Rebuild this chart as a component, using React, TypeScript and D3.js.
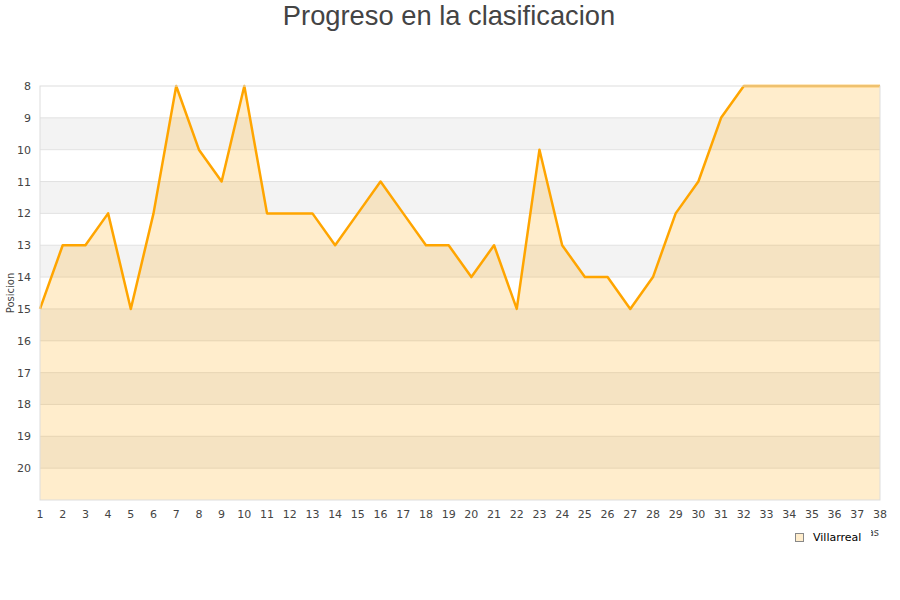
import * as d3 from "d3"

const jornadas = d3.range(1, 39)
const posiciones = [
  15, 13, 13, 12, 15, 12, 8, 10, 11, 8, 12, 12, 12, 13, 12, 11, 12, 13, 13, 14,
  13, 15, 10, 13, 14, 14, 15, 14, 12, 11, 9, 8, 8, 8, 8, 8, 8, 8,
]
const yTicks = d3.range(8, 21)
const equipo = "Villarreal"

export default function App() {
  const width = 900
  const height = 600
  const margin = { top: 86, right: 20, bottom: 100, left: 40 }
  const x = d3
    .scaleLinear()
    .domain([1, 38])
    .range([margin.left, width - margin.right])
  const y = d3
    .scaleLinear()
    .domain([8, 21])
    .range([margin.top, height - margin.bottom])

  const data = jornadas.map((j, i) => ({ j, p: posiciones[i] }))
  const line = d3
    .line<{ j: number; p: number }>()
    .x((d) => x(d.j))
    .y((d) => y(d.p))
  const area = d3
    .area<{ j: number; p: number }>()
    .x((d) => x(d.j))
    .y0(y(21))
    .y1((d) => y(d.p))

  const font = "DejaVu Sans, sans-serif"

  return (
    <svg
      width={width}
      height={height}
      style={{ position: "absolute", left: 0, top: 0, background: "#fff" }}
    >
      <text
        x={449}
        y={25}
        textAnchor="middle"
        fontFamily="Liberation Sans, Arial, sans-serif"
        fontSize={27.3}
        fill="#444"
      >
        Progreso en la clasificacion
      </text>

      {/* alternating bands */}
      {yTicks.map((t) => (
        <rect
          key={t}
          x={x(1)}
          y={y(t)}
          width={x(38) - x(1)}
          height={y(t + 1) - y(t)}
          fill={t % 2 === 1 ? "#f3f3f3" : "#ffffff"}
        />
      ))}
      {yTicks.slice(1).map((t) => (
        <line
          key={t}
          x1={x(1)}
          x2={x(38)}
          y1={y(t)}
          y2={y(t)}
          stroke="#e2e2e2"
          strokeWidth={1}
        />
      ))}

      <path d={area(data) ?? ""} fill="rgba(255,165,0,0.2)" />
      <path
        d={line(data) ?? ""}
        fill="none"
        stroke="#ffa500"
        strokeWidth={2.5}
        strokeLinejoin="round"
      />

      <rect
        x={x(1)}
        y={y(8)}
        width={x(38) - x(1)}
        height={y(21) - y(8)}
        fill="none"
        stroke="#dddddd"
        strokeWidth={1}
      />

      {yTicks.map((t) => (
        <text
          key={t}
          x={31}
          y={y(t) + 4}
          textAnchor="end"
          fontFamily={font}
          fontSize={11}
          fill="#444"
        >
          {t}
        </text>
      ))}
      {jornadas.map((j) => (
        <text
          key={j}
          x={x(j)}
          y={518}
          textAnchor="middle"
          fontFamily={font}
          fontSize={11}
          fill="#444"
        >
          {j}
        </text>
      ))}

      <text
        transform={`translate(14,${y(14.5)}) rotate(-90)`}
        textAnchor="middle"
        fontFamily={font}
        fontSize={10}
        fill="#444"
      >
        Posicion
      </text>

      {/* axis title mostly hidden behind the legend box, as in the original */}
      <text
        x={879}
        y={536}
        textAnchor="end"
        fontFamily={font}
        fontSize={10}
        fill="#444"
      >
        Jornadas
      </text>
      <rect x={786} y={528} width={85} height={19} fill="#fff" />
      <rect
        x={795.5}
        y={533.5}
        width={8}
        height={8}
        fill="#ffedcc"
        stroke="#888"
        strokeWidth={1}
      />
      <text x={813} y={541} fontFamily={font} fontSize={11} fill="#000">
        {equipo}
      </text>
    </svg>
  )
}
